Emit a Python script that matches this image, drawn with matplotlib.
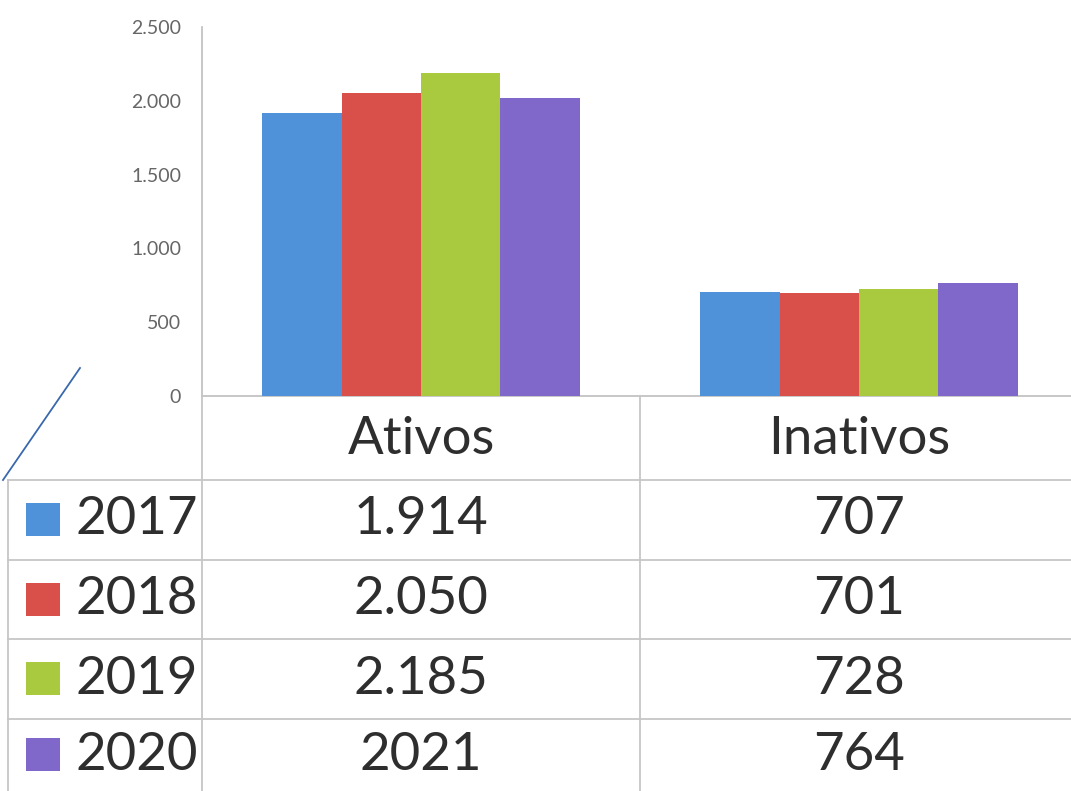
import numpy as np
import matplotlib
matplotlib.use("Agg")
import matplotlib.pyplot as plt
from matplotlib.lines import Line2D
from matplotlib.patches import Rectangle

# =========================
# DATA
# =========================

categories = ["Ativos", "Inativos"]
years = ["2017", "2018", "2019", "2020"]
ativos = [1914, 2050, 2185, 2021]
inativos = [707, 701, 728, 764]
# table text exactly as printed in the source
ativos_text = ["1.914", "2.050", "2.185", "2021"]
inativos_text = ["707", "701", "728", "764"]
yticks = [0, 500, 1000, 1500, 2000, 2500]
ytick_labels = ["0", "500", "1.000", "1.500", "2.000", "2.500"]

colors = ["#4f92d9", "#d9504b", "#a9c93e", "#7f68c9"]

plt.rcParams["font.family"] = ["Lato", "DejaVu Sans"]

W, H = 1071, 791
fig = plt.figure(figsize=(W / 100, H / 100), dpi=100)


def fx(x):
    return x / W


def fy(y):
    return 1 - y / H


# axes placed in pixel terms (right side runs past the page like the scan)
ax_left, ax_right, ax_top, ax_zero = 202, 1078, 27, 396
ax = fig.add_axes([fx(ax_left), fy(ax_zero), (ax_right - ax_left) / W,
                   (ax_zero - ax_top) / H])

# =========================
# BARS
# =========================

x = np.arange(len(categories))
bw = 0.1815
series = [[ativos[i], inativos[i]] for i in range(len(years))]
for i, vals in enumerate(series):
    ax.bar(x + (i - 1.5) * bw, vals, width=bw, color=colors[i],
           edgecolor="none", zorder=3)

ax.set_xlim(-0.5, 1.5)
ax.set_ylim(0, 2500)
ax.set_yticks(yticks)
ax.set_yticklabels(ytick_labels, fontsize=14, color="#666666")
ax.tick_params(axis="y", length=0, pad=15)
ax.set_xticks([])
for s in ["top", "right"]:
    ax.spines[s].set_visible(False)
ax.spines["left"].set_color("#bdbdbd")
ax.spines["bottom"].set_color("#bdbdbd")
ax.spines["left"].set_linewidth(1.2)
ax.spines["bottom"].set_linewidth(1.2)

# =========================
# DATA TABLE UNDER THE CHART
# =========================

line_col = "#c6c6c6"
row_lines = [480, 560, 639, 719]
row_centers = [520, 600, 679, 755]

for yl in row_lines:
    fig.add_artist(Line2D([fx(8), fx(W)], [fy(yl), fy(yl)],
                          color=line_col, lw=1.3))
fig.add_artist(Line2D([fx(8), fx(8)], [fy(480), fy(H)], color=line_col, lw=1.3))
fig.add_artist(Line2D([fx(202), fx(202)], [fy(396), fy(H)], color=line_col, lw=1.3))
fig.add_artist(Line2D([fx(640), fx(640)], [fy(396), fy(H)], color=line_col, lw=1.3))

trans = ax.get_xaxis_transform()


def ay(y):
    return (ax_zero - y) / (ax_zero - ax_top)


for i, cat in enumerate(categories):
    ax.text(x[i], ay(440), cat, transform=trans, ha="center", va="center",
            fontsize=38, color="#2e2e2e", clip_on=False)

for r in range(len(years)):
    yc = row_centers[r]
    fig.add_artist(Rectangle((fx(26), fy(yc + 16)), 34 / W, 33 / H,
                             transform=fig.transFigure, color=colors[r], lw=0))
    fig.text(fx(76), fy(yc), years[r], ha="left", va="center",
             fontsize=38, color="#2e2e2e")
    ax.text(x[0], ay(yc), ativos_text[r], transform=trans, ha="center",
            va="center", fontsize=38, color="#2e2e2e", clip_on=False)
    ax.text(x[1], ay(yc), inativos_text[r], transform=trans, ha="center",
            va="center", fontsize=38, color="#2e2e2e", clip_on=False)

# pen stroke on the scanned page
fig.add_artist(Line2D([fx(80), fx(3)], [fy(368), fy(480)],
                      color="#3a68ad", lw=1.3))

fig.savefig("out.png", dpi=100, facecolor="white")
